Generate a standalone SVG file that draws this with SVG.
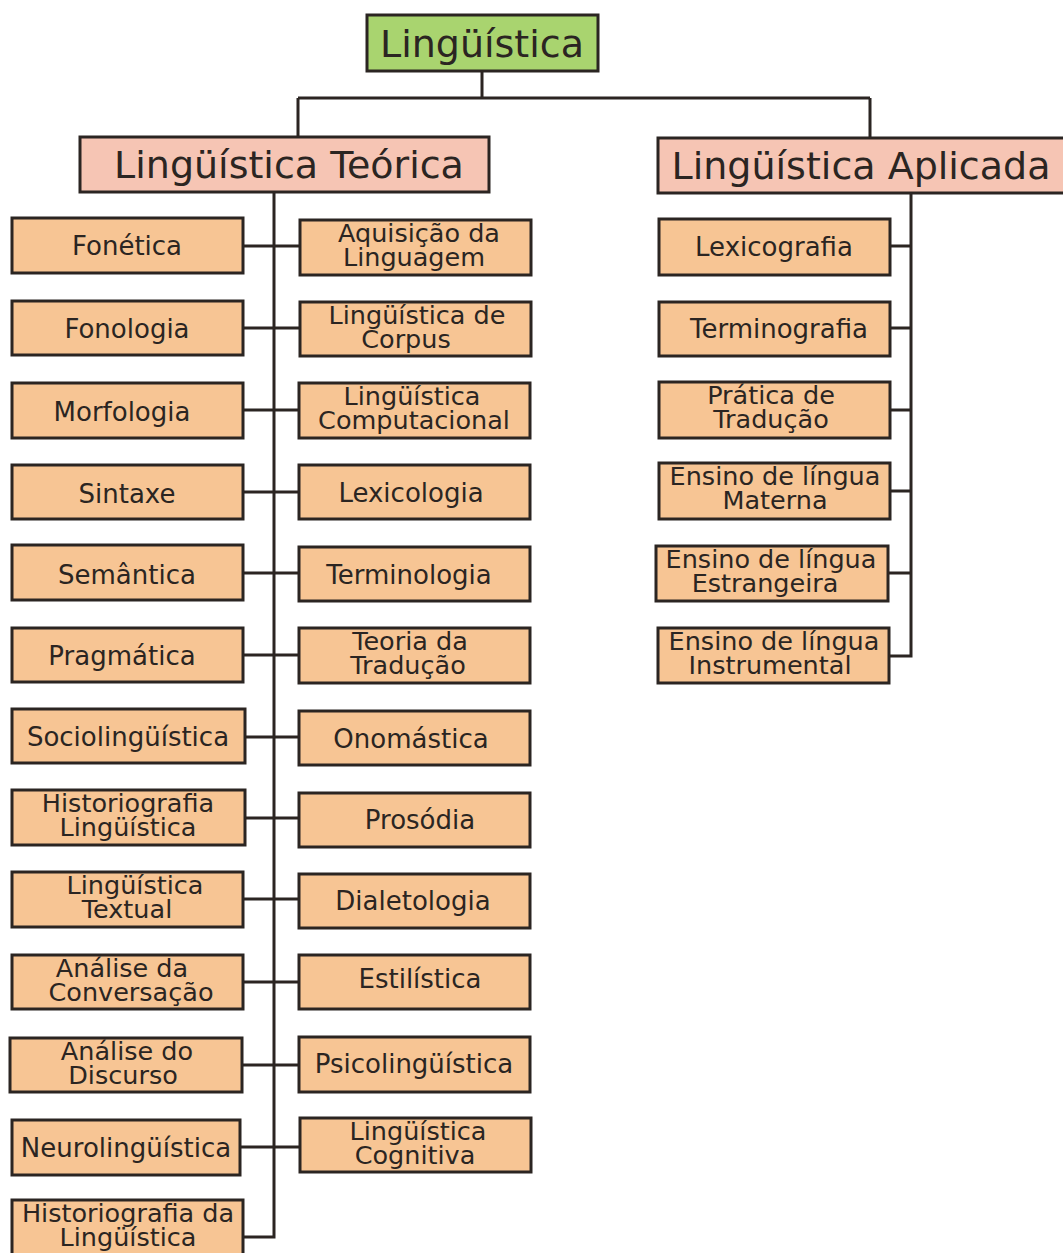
<svg xmlns="http://www.w3.org/2000/svg" width="1063" height="1253" viewBox="0 0 1063 1253">
<style>
.b{fill:#f7c594;stroke:#2b2522;stroke-width:3}
.h{fill:#f6c5b4;stroke:#2b2522;stroke-width:3}
.r{fill:#a9d46f;stroke:#2b2522;stroke-width:3}
.c{fill:none;stroke:#2b2522;stroke-width:3}
text{font-family:"DejaVu Sans","Liberation Sans",sans-serif;fill:#2b2522;text-anchor:middle}
.t{font-size:26px}
.t2{font-size:25.5px}
.big{font-size:38px}
</style>
<rect width="1063" height="1253" fill="#ffffff"/>
<g id="connectors">
<path class="c" d="M482 71V98M298 98H870M298 98V137M870 98V138"/>
<path class="c" d="M274 192V1237H243"/>
<path class="c" d="M243 246H300M243 328H300M243 410H300M243 492H300M243 573H300M243 655H300M245 737H300M245 818H300M243 899H300M243 982H300M242 1065H300M240 1147H300"/>
<path class="c" d="M911 193V656H890M890 246H911M890 328H911M890 410H911M890 491H911M888 573H911"/>
</g>
<g id="n-root"><rect class="r" x="367" y="15" width="231" height="56"/><text class="big" x="482" y="57">Lingüística</text></g>
<g id="n-teorica"><rect class="h" x="80" y="137" width="409" height="55"/><text class="big" x="289" y="178">Lingüística Teórica</text></g>
<g id="n-aplicada"><rect class="h" x="658" y="138" width="410" height="55"/><text class="big" x="861" y="179">Lingüística Aplicada</text></g>

<g id="n-fonetica"><rect class="b" x="12" y="218" width="231" height="55"/><text class="t" x="127" y="255">Fonética</text></g>
<g id="n-fonologia"><rect class="b" x="12" y="301" width="231" height="54"/><text class="t" x="127" y="338">Fonologia</text></g>
<g id="n-morfologia"><rect class="b" x="12" y="383" width="231" height="55"/><text class="t" x="122" y="421">Morfologia</text></g>
<g id="n-sintaxe"><rect class="b" x="12" y="465" width="231" height="54"/><text class="t" x="127" y="503">Sintaxe</text></g>
<g id="n-semantica"><rect class="b" x="12" y="545" width="231" height="55"/><text class="t" x="127" y="584">Semântica</text></g>
<g id="n-pragmatica"><rect class="b" x="12" y="628" width="231" height="54"/><text class="t" x="122" y="665">Pragmática</text></g>
<g id="n-socio"><rect class="b" x="12" y="709" width="233" height="54"/><text class="t" x="128" y="746">Sociolingüística</text></g>
<g id="n-histling"><rect class="b" x="12" y="790" width="233" height="55"/><text class="t2" x="128" y="812">Historiografia</text><text class="t2" x="128" y="836">Lingüística</text></g>
<g id="n-textual"><rect class="b" x="12" y="872" width="231" height="55"/><text class="t2" x="135" y="894">Lingüística</text><text class="t2" x="127" y="918">Textual</text></g>
<g id="n-conversacao"><rect class="b" x="12" y="955" width="231" height="54"/><text class="t2" x="122" y="977">Análise da</text><text class="t2" x="131" y="1001">Conversação</text></g>
<g id="n-discurso"><rect class="b" x="10" y="1038" width="232" height="54"/><text class="t2" x="127" y="1060">Análise do</text><text class="t2" x="123" y="1084">Discurso</text></g>
<g id="n-neuro"><rect class="b" x="12" y="1120" width="228" height="55"/><text class="t" x="126" y="1157">Neurolingüística</text></g>
<g id="n-histdaling"><rect class="b" x="12" y="1200" width="231" height="60"/><text class="t2" x="128" y="1222">Historiografia da</text><text class="t2" x="128" y="1246">Lingüística</text></g>

<g id="n-aquisicao"><rect class="b" x="300" y="220" width="231" height="55"/><text class="t2" x="419" y="242">Aquisição da</text><text class="t2" x="414" y="266">Linguagem</text></g>
<g id="n-corpus"><rect class="b" x="300" y="302" width="231" height="54"/><text class="t2" x="417" y="324">Lingüística de</text><text class="t2" x="406" y="348">Corpus</text></g>
<g id="n-computacional"><rect class="b" x="299" y="383" width="231" height="55"/><text class="t2" x="412" y="405">Lingüística</text><text class="t2" x="414" y="429">Computacional</text></g>
<g id="n-lexicologia"><rect class="b" x="299" y="465" width="231" height="54"/><text class="t" x="411" y="502">Lexicologia</text></g>
<g id="n-terminologia"><rect class="b" x="299" y="547" width="231" height="54"/><text class="t" x="409" y="584">Terminologia</text></g>
<g id="n-teoriatrad"><rect class="b" x="299" y="628" width="231" height="55"/><text class="t2" x="410" y="650">Teoria da</text><text class="t2" x="408" y="674">Tradução</text></g>
<g id="n-onomastica"><rect class="b" x="299" y="711" width="231" height="54"/><text class="t" x="411" y="748">Onomástica</text></g>
<g id="n-prosodia"><rect class="b" x="299" y="793" width="231" height="54"/><text class="t" x="420" y="829">Prosódia</text></g>
<g id="n-dialetologia"><rect class="b" x="299" y="874" width="231" height="54"/><text class="t" x="413" y="910">Dialetologia</text></g>
<g id="n-estilistica"><rect class="b" x="299" y="955" width="231" height="54"/><text class="t" x="420" y="988">Estilística</text></g>
<g id="n-psico"><rect class="b" x="299" y="1037" width="231" height="55"/><text class="t" x="414" y="1073">Psicolingüística</text></g>
<g id="n-cognitiva"><rect class="b" x="300" y="1118" width="231" height="54"/><text class="t2" x="418" y="1140">Lingüística</text><text class="t2" x="415" y="1164">Cognitiva</text></g>

<g id="n-lexicografia"><rect class="b" x="659" y="219" width="231" height="56"/><text class="t" x="774" y="256">Lexicografia</text></g>
<g id="n-terminografia"><rect class="b" x="659" y="302" width="231" height="54"/><text class="t" x="779" y="338">Terminografia</text></g>
<g id="n-pratica"><rect class="b" x="659" y="382" width="231" height="56"/><text class="t2" x="771" y="404">Prática de</text><text class="t2" x="771" y="428">Tradução</text></g>
<g id="n-materna"><rect class="b" x="659" y="463" width="231" height="56"/><text class="t2" x="775" y="485">Ensino de língua</text><text class="t2" x="775" y="509">Materna</text></g>
<g id="n-estrangeira"><rect class="b" x="656" y="546" width="232" height="55"/><text class="t2" x="771" y="568">Ensino de língua</text><text class="t2" x="765" y="592">Estrangeira</text></g>
<g id="n-instrumental"><rect class="b" x="658" y="628" width="231" height="55"/><text class="t2" x="774" y="650">Ensino de língua</text><text class="t2" x="770" y="674">Instrumental</text></g>
</svg>
